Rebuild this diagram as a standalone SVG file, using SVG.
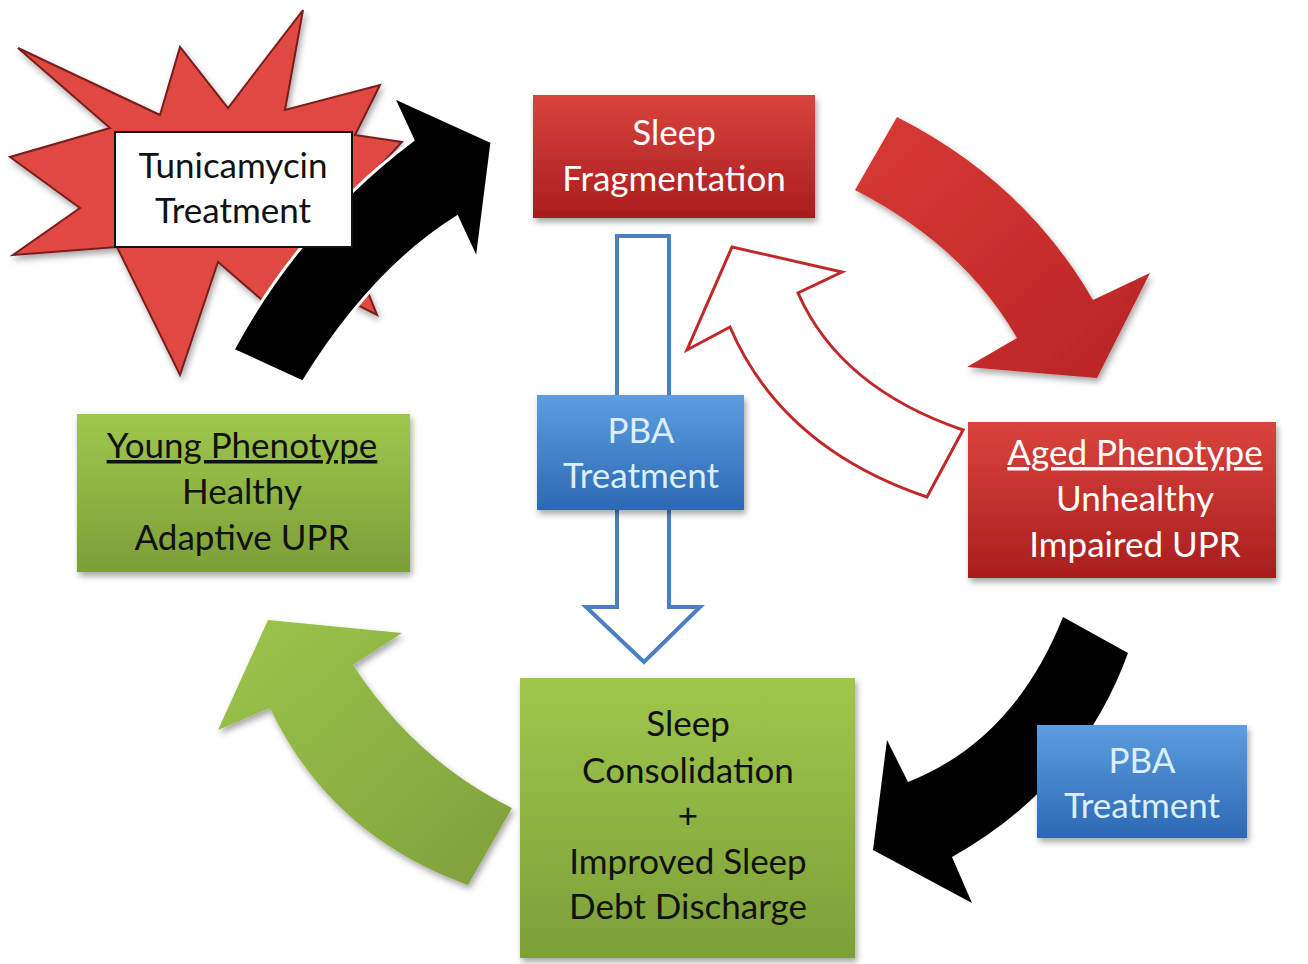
<svg xmlns="http://www.w3.org/2000/svg" width="1308" height="964" viewBox="0 0 1308 964">
<defs>
<linearGradient id="gRed" x1="0" y1="0" x2="0" y2="1"><stop offset="0" stop-color="#d9443d"/><stop offset="1" stop-color="#a91d1d"/></linearGradient>
<linearGradient id="gGreen" x1="0" y1="0" x2="0" y2="1"><stop offset="0" stop-color="#9fc74c"/><stop offset="1" stop-color="#7c9f38"/></linearGradient>
<linearGradient id="gBlue" x1="0" y1="0" x2="0" y2="1"><stop offset="0" stop-color="#5d9de0"/><stop offset="1" stop-color="#2c69b3"/></linearGradient>
<linearGradient id="gRedArrow" x1="0" y1="0" x2="1" y2="1"><stop offset="0" stop-color="#d83a34"/><stop offset="1" stop-color="#b82426"/></linearGradient>
<linearGradient id="gGreenArrow" x1="0" y1="0" x2="1" y2="1"><stop offset="0" stop-color="#9cc64a"/><stop offset="1" stop-color="#7f9f3c"/></linearGradient>
<filter id="sh" x="-20%" y="-20%" width="140%" height="140%"><feDropShadow dx="2" dy="4" stdDeviation="3" flood-color="#000" flood-opacity="0.35"/></filter>
</defs>
<style>
text{font-family:Lato,"Open Sans","Liberation Sans",sans-serif;font-size:35px;text-anchor:middle}
.w{fill:#ffffff}
.pb{fill:#dcefff}
.k{fill:#111111}
.u{text-decoration:underline}
</style>
<rect width="1308" height="964" fill="#ffffff"/>

<g id="tunicamycin">
<polygon points="18,48 160,115 180,47 228,108 303,10 285,110 380,85 355,135 402,142 362,185 398,240 345,235 377,315 285,268 262,300 218,262 180,375 117,247 13,255 80,208 10,157 110,128" fill="#e04a42" stroke="#7a1c1c" stroke-width="2" stroke-linejoin="miter" filter="url(#sh)"/>
</g>

<g id="connectors">
<path id="arrow-tunicamycin" d="M233,350 Q300,225 413,140 L393,97 L492,142 L477,260 L457,217 Q372,270 303,382 Z" fill="#000000" stroke="#ffffff" stroke-width="3" stroke-linejoin="miter"/>
<path id="arrow-frag-aged" d="M897,117 Q1025,182 1093,300 L1150,273 L1097,378 L967,367 L1017,338 Q964,246 855,190 Z" fill="url(#gRedArrow)" filter="url(#sh)"/>
<path id="arrow-aged-frag" d="M730,327 L687,350 L732,247 L842,272 L798,293 Q840,388 963,430 L927,497 Q782,448 730,327 Z" fill="#ffffff" stroke="#c0282a" stroke-width="3" stroke-linejoin="miter"/>
<path id="arrow-frag-cons" d="M617,236 L669,236 L669,607 L700,607 L644,662 L586,607 L617,607 Z" fill="#ffffff" stroke="#4a7fc1" stroke-width="4" stroke-linejoin="miter"/>
<path id="arrow-aged-cons" d="M1063,617 Q1014,740 908,782 L887,740 L873,850 L972,903 L952,857 Q1080,785 1128,653 Z" fill="#000000"/>
<path id="arrow-cons-young" d="M268,620 L402,633 L353,665 Q415,760 512,808 L468,885 Q330,835 270,708 L218,730 Z" fill="url(#gGreenArrow)" filter="url(#sh)"/>
</g>

<g id="tunicamycin-label">
<rect x="115" y="132" width="237" height="115" fill="#ffffff" stroke="#111111" stroke-width="2"/>
<text class="k" x="233" y="178">Tunicamycin</text>
<text class="k" x="233" y="223">Treatment</text>
</g>

<g id="sleep-fragmentation">
<rect x="533" y="95" width="282" height="123" fill="url(#gRed)" filter="url(#sh)"/>
<text class="w" x="674" y="145">Sleep</text>
<text class="w" x="674" y="191">Fragmentation</text>
</g>

<g id="pba-center">
<rect x="537" y="395" width="207" height="115" fill="url(#gBlue)" filter="url(#sh)"/>
<text class="pb" x="641" y="443">PBA</text>
<text class="pb" x="641" y="488">Treatment</text>
</g>

<g id="aged-phenotype">
<rect x="968" y="422" width="308" height="156" fill="url(#gRed)" filter="url(#sh)"/>
<text class="w u" x="1135" y="465">Aged Phenotype</text>
<text class="w" x="1135" y="511">Unhealthy</text>
<text class="w" x="1135" y="557">Impaired UPR</text>
</g>

<g id="young-phenotype">
<rect x="77" y="414" width="333" height="158" fill="url(#gGreen)" filter="url(#sh)"/>
<text class="k u" x="242" y="458">Young Phenotype</text>
<text class="k" x="242" y="504">Healthy</text>
<text class="k" x="242" y="550">Adaptive UPR</text>
</g>

<g id="sleep-consolidation">
<rect x="520" y="678" width="335" height="280" fill="url(#gGreen)" filter="url(#sh)"/>
<text class="k" x="688" y="736">Sleep</text>
<text class="k" x="688" y="783">Consolidation</text>
<text class="k" x="688" y="828">+</text>
<text class="k" x="688" y="874">Improved Sleep</text>
<text class="k" x="688" y="919">Debt Discharge</text>
</g>

<g id="pba-right">
<rect x="1037" y="725" width="210" height="113" fill="url(#gBlue)" filter="url(#sh)"/>
<text class="pb" x="1142" y="773">PBA</text>
<text class="pb" x="1142" y="818">Treatment</text>
</g>
</svg>
